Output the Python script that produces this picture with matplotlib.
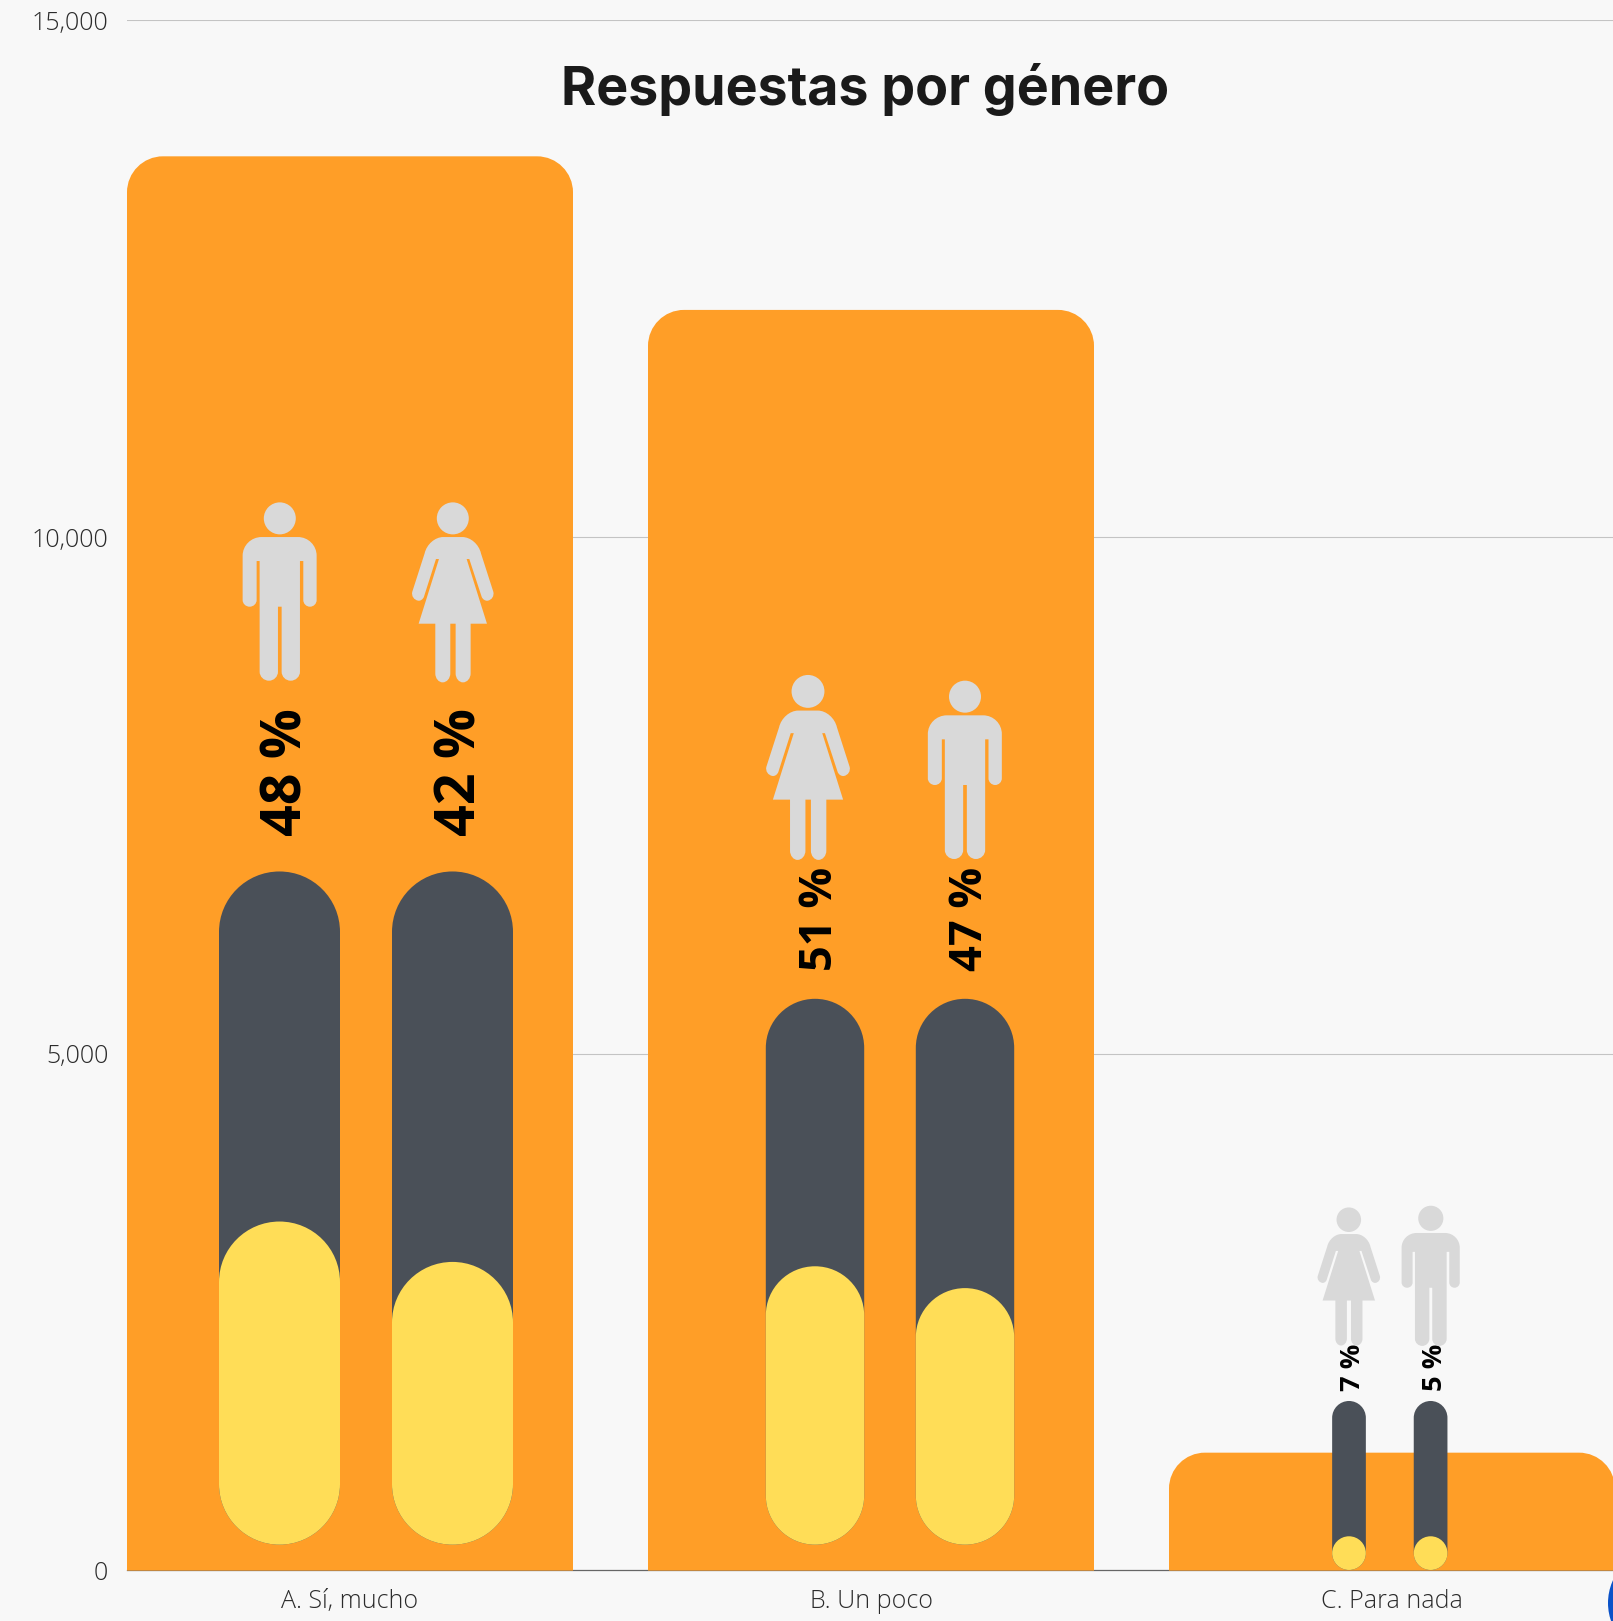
import matplotlib

matplotlib.use("Agg")
import matplotlib.pyplot as plt
from matplotlib.patches import Circle, PathPatch
from matplotlib.path import Path
from matplotlib.transforms import Affine2D, IdentityTransform

# data
categories = ["A. Sí, mucho", "B. Un poco", "C. Para nada"]
responses = [13683, 12197, 1141]
y_ticks = [0, 5000, 10000, 15000]
y_tick_labels = ["0", "5,000", "10,000", "15,000"]
title = "Respuestas por género"

first_gender = ["man", "woman", "woman"]
second_gender = ["woman", "man", "man"]
first_pct = [48, 51, 7]
second_pct = [42, 47, 5]
pill_top = [6764, 5532, 1641]
pill_bottom = [251, 251, 6]

# layout, in image pixels
W, H = 1613, 1621
PLOT_LEFT, PLOT_BOTTOM, PLOT_TOP = 127, 1570.6, 20.2
STEP_PX = 521
BAR_PX = 446
CENTER0_PX = 350
BAR_RADIUS = 36

pill_width_px = [121, 98.4, 33.7]
first_offset_px = [-70.5, -56, -43]
second_offset_px = [102.5, 94, 38.6]
label_gap_px = [99, 80, 33.5]
label_size = [40, 32.6, 19.6]
label_shift_px = [8, 6, 4.5]
icon_first = [(279.8, 502.7, 1 / 3), (808, 675.3, 0.3425), (1348.8, 1207.7, 0.2557)]
icon_second = [(452.8, 502.7, 1 / 3), (965, 681, 1 / 3), (1430.8, 1206, 0.262)]

BG = "#f8f8f8"
ORANGE = "#ff9e27"
DARK = "#4a5058"
YELLOW = "#ffdd57"
ICON = "#d9d9d9"
TEXT = "#2b2b2b"

PX_X = 1 / STEP_PX
PX_Y = 15000 / (PLOT_BOTTOM - PLOT_TOP)
KAPPA = 0.5523


def rounded_bar(x0, x1, y0, y1, radius_px, round_bottom=False):
    rx, ry = radius_px * PX_X, radius_px * PX_Y
    kx, ky = rx * (1 - KAPPA), ry * (1 - KAPPA)
    verts = [(x0, y1 - ry), (x0, y1 - ky), (x0 + kx, y1), (x0 + rx, y1),
             (x1 - rx, y1), (x1 - kx, y1), (x1, y1 - ky), (x1, y1 - ry)]
    codes = [Path.MOVETO, Path.CURVE4, Path.CURVE4, Path.CURVE4,
             Path.LINETO, Path.CURVE4, Path.CURVE4, Path.CURVE4]
    if round_bottom:
        verts += [(x1, y0 + ry), (x1, y0 + ky), (x1 - kx, y0), (x1 - rx, y0),
                  (x0 + rx, y0), (x0 + kx, y0), (x0, y0 + ky), (x0, y0 + ry)]
        codes += [Path.LINETO, Path.CURVE4, Path.CURVE4, Path.CURVE4,
                  Path.LINETO, Path.CURVE4, Path.CURVE4, Path.CURVE4]
    else:
        verts += [(x1, y0), (x0, y0)]
        codes += [Path.LINETO, Path.LINETO]
    verts.append((x0, y1 - ry))
    codes.append(Path.CLOSEPOLY)
    return Path(verts, codes)


def outline(start, steps):
    # steps: (x, y) is a straight line, (cx, cy, x, y) a round corner at a control point
    verts, codes = [start], [Path.MOVETO]
    for step in steps:
        if len(step) == 2:
            verts.append(step)
            codes.append(Path.LINETO)
        else:
            px, py = verts[-1]
            cx, cy, x, y = step
            verts += [(px + KAPPA * (cx - px), py + KAPPA * (cy - py)),
                      (x + KAPPA * (cx - x), y + KAPPA * (cy - y)), (x, y)]
            codes += [Path.CURVE4, Path.CURVE4, Path.CURVE4]
    verts.append(start)
    codes.append(Path.CLOSEPOLY)
    return Path(verts, codes)


def head(cx, cy, r):
    return Path(Path.unit_circle().vertices * r + (cx, cy), Path.unit_circle().codes)


man_shape = Path.make_compound_path(
    head(179.5, 85, 48),
    outline((125, 141), [
        (234, 141), (290, 141, 290, 197), (290, 330), (290, 350, 270, 350), (250, 350, 250, 330),
        (250, 213), (240, 213), (240, 545), (240, 572, 212, 572), (185, 572, 185, 545),
        (185, 350), (174, 350), (174, 545), (174, 572, 147, 572), (119, 572, 119, 545),
        (119, 213), (110, 213), (110, 330), (110, 350, 89, 350), (68, 350, 68, 330),
        (68, 197), (68, 141, 125, 141),
    ]),
)
woman_shape = Path.make_compound_path(
    head(698.5, 85, 48),
    outline((670, 141), [
        (727, 141), (772, 141, 783, 190), (820, 305), (826, 328, 803, 332), (790, 334, 785, 320),
        (748, 207), (740, 207), (801, 401), (752, 401), (752, 550), (752, 577, 729, 577),
        (707, 577, 707, 550), (707, 401), (691, 401), (691, 550), (691, 577, 668, 577),
        (646, 577, 646, 550), (646, 401), (596, 401), (657, 207), (648, 207), (612, 320),
        (607, 334, 595, 332), (571, 328, 577, 305), (614, 190), (625, 141, 670, 141),
    ]),
)
shapes = {"man": (man_shape, 179.5), "woman": (woman_shape, 698.5)}


def draw_icon(fig, gender, x_px, top_px, scale):
    shape, shape_cx = shapes[gender]
    place = (Affine2D().translate(-shape_cx, -38).scale(scale, -scale)
             .translate(x_px, H - top_px))
    fig.add_artist(PathPatch(shape, transform=place, facecolor=ICON, edgecolor="none", zorder=6))


plt.rcParams["font.family"] = ["Open Sans", "DejaVu Sans"]
fig = plt.figure(figsize=(W / 100, H / 100), dpi=100, facecolor=BG)
ax = fig.add_axes([PLOT_LEFT / W, (H - PLOT_BOTTOM) / H, (W - PLOT_LEFT) / W, (PLOT_BOTTOM - PLOT_TOP) / H])
ax.set_facecolor("none")
ax.set_xlim((PLOT_LEFT - CENTER0_PX) * PX_X, (W - CENTER0_PX) * PX_X)
ax.set_ylim(0, 15000)

for name in ["top", "left", "right"]:
    ax.spines[name].set_visible(False)
ax.spines["bottom"].set_color("#666666")
ax.spines["bottom"].set_linewidth(0.9)
ax.spines["bottom"].set_zorder(1)
# the bars hide the baseline, so it sits just inside their lower edge
ax.spines["bottom"].set_position(("outward", -0.6))

ax.set_yticks(y_ticks, y_tick_labels)
ax.set_xticks(range(len(categories)), categories)
ax.tick_params(axis="both", length=0, labelsize=18, labelcolor=TEXT)
ax.tick_params(axis="y", pad=13.5)
ax.tick_params(axis="x", pad=13.6)
for lab in ax.get_xticklabels() + ax.get_yticklabels():
    lab.set_fontweight(300)
ax.yaxis.grid(True, color="#c4c4c4", linewidth=0.8, zorder=0.5)
ax.set_axisbelow(True)

half_bar = BAR_PX * PX_X / 2
for i, value in enumerate(responses):
    bar = rounded_bar(i - half_bar, i + half_bar, 0, value, BAR_RADIUS)
    ax.add_patch(PathPatch(bar, facecolor=ORANGE, edgecolor="none", zorder=3, clip_on=False))

for i in range(len(categories)):
    width = pill_width_px[i]
    half = width * PX_X / 2
    total = pill_top[i] - pill_bottom[i]
    for offset, pct in ((first_offset_px[i], first_pct[i]), (second_offset_px[i], second_pct[i])):
        x = i + offset * PX_X
        ax.add_patch(PathPatch(rounded_bar(x - half, x + half, pill_bottom[i], pill_top[i], width / 2, True),
                               facecolor=DARK, edgecolor="none", zorder=4))
        fill = max(total * pct / 100, width * PX_Y)
        ax.add_patch(PathPatch(rounded_bar(x - half, x + half, pill_bottom[i], pill_bottom[i] + fill, width / 2, True),
                               facecolor=YELLOW, edgecolor="none", zorder=5))
        ax.text(x + label_shift_px[i] * PX_X, pill_top[i] + label_gap_px[i] * PX_Y, f"{pct} %",
                rotation=90, ha="center", va="center", fontsize=label_size[i],
                fontweight="bold", color="black", zorder=7)

for i in range(len(categories)):
    draw_icon(fig, first_gender[i], *icon_first[i])
    draw_icon(fig, second_gender[i], *icon_second[i])

fig.text(865 / W, 1 - 90 / H, title, family=["Inter", "DejaVu Sans"], fontweight="bold",
         fontsize=38.7, color="#1a1a1a", ha="center", va="center", zorder=8)

# clipped blue logo in the bottom right corner
fig.add_artist(Circle((1663, H - 1603), 55, transform=IdentityTransform(), facecolor="#0a52c8", edgecolor="none"))

fig.savefig("out.png", dpi=100, facecolor=BG)
